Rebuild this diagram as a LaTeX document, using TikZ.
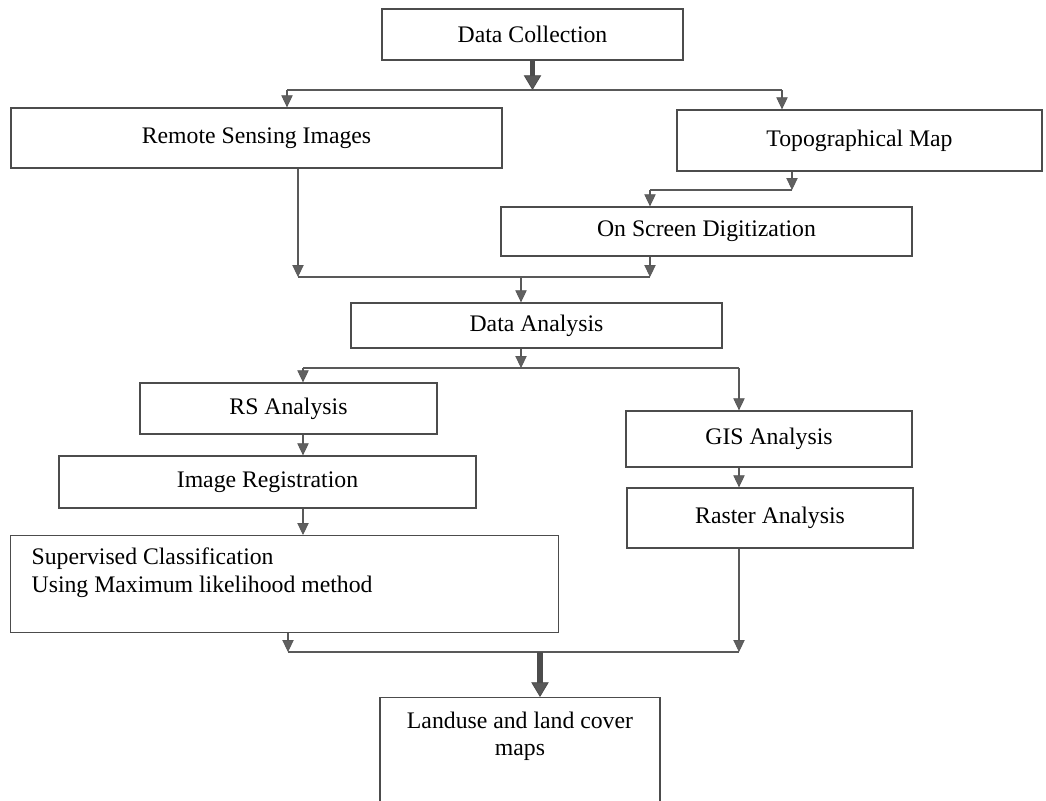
\documentclass[tikz,border=0pt]{standalone}
\usepackage{fontspec}
\setmainfont{Liberation Serif}
\usetikzlibrary{arrows.meta}

\tikzset{
    box/.style={draw=black!70, line width=1pt, inner sep=0pt, font=\fontsize{17.8}{21}\selectfont},
    line/.style={draw=black!65, line width=1pt},
    arr/.style={line, -{Triangle[width=8.5pt,length=9pt,fill=gray!75!black,line width=0.6pt]}},
    bigarr/.style={draw=gray!60!black, line width=4pt, -{Triangle[width=13pt,length=11pt,fill=gray!70!black,line width=0.6pt]}}
}

\begin{document}
\begin{tikzpicture}[x=0.75pt, y=-0.75pt]
    \useasboundingbox (0,0) rectangle (1046,800);

    %boxes
    \node[box, minimum width=225.75pt, minimum height=38.25pt] (dc) at (532.5,34.5) {Data Collection};
    \node[box, minimum width=368.25pt, minimum height=45pt] (rsi) at (256.5,138) {Remote Sensing Images};
    \node[box, minimum width=273.75pt, minimum height=45.75pt] (topo) at (859.5,140.5) {Topographical Map};
    \node[box, minimum width=308.25pt, minimum height=36.75pt] (osd) at (706.5,231.5) {On Screen Digitization};
    \node[box, minimum width=278.25pt, minimum height=33.75pt] (da) at (536.5,325.5) {Data Analysis};
    \node[box, minimum width=222.75pt, minimum height=38.25pt] (rsa) at (288.5,408.5) {RS Analysis};
    \node[box, minimum width=312.75pt, minimum height=39pt] (ir) at (267.5,482) {Image Registration};
    \node[box, anchor=north west, inner xsep=15.75pt, inner ysep=9pt, text width=379.5pt, align=flush left] (sc) at (10,535)
        {Supervised Classification\\Using Maximum likelihood method\\~};
    \node[box, minimum width=214.5pt, minimum height=42pt] (gis) at (769,439) {GIS Analysis};
    \node[box, minimum width=214.5pt, minimum height=45pt] (ra) at (770,518) {Raster Analysis};
    \node[box, anchor=north, minimum width=210pt, inner ysep=11pt, align=center] (lcm) at (520,697)
        {Landuse and land cover\\[-1pt]maps\\~\\~\\~};

    %junctions
    \coordinate (j1l) at (287,90);
    \coordinate (j1r) at (782,90);
    \coordinate (t1) at (792,190);
    \coordinate (t2) at (650,190);
    \coordinate (j2l) at (298,277);
    \coordinate (j2r) at (650,277);
    \coordinate (j2m) at (521,277);
    \coordinate (j3l) at (303,368);
    \coordinate (j3r) at (739,368);
    \coordinate (j3m) at (521,368);
    \coordinate (j4l) at (288,652);
    \coordinate (j4r) at (739,652);
    \coordinate (j4m) at (540,652);

    %data collection
    \draw[bigarr] (dc.south) -- (dc.south |- j1l);
    \draw[line] (j1l) -- (j1r);
    \draw[arr] (j1l) -- (j1l |- rsi.north);
    \draw[arr] (j1r) -- (j1r |- topo.north);

    %map digitization
    \draw[arr] (t1 |- topo.south) -- (t1);
    \draw[line] (t1) -- (t2);
    \draw[arr] (t2) -- (t2 |- osd.north);

    %into data analysis
    \draw[arr] (j2l |- rsi.south) -- (j2l);
    \draw[arr] (j2r |- osd.south) -- (j2r);
    \draw[line] (j2l) -- (j2r);
    \draw[arr] (j2m) -- (j2m |- da.north);

    %rs and gis branches
    \draw[arr] (j3m |- da.south) -- (j3m);
    \draw[line] (j3l) -- (j3r);
    \draw[arr] (j3l) -- (j3l |- rsa.north);
    \draw[arr] (j3r) -- (j3r |- gis.north);
    \draw[arr] (j3l |- rsa.south) -- (j3l |- ir.north);
    \draw[arr] (j3l |- ir.south) -- (j3l |- sc.north);
    \draw[arr] (j3r |- gis.south) -- (j3r |- ra.north);

    %final maps
    \draw[arr] (j4l |- sc.south) -- (j4l);
    \draw[arr] (j4r |- ra.south) -- (j4r);
    \draw[line] (j4l) -- (j4r);
    \draw[bigarr] (j4m) -- (j4m |- lcm.north);
\end{tikzpicture}
\end{document}
